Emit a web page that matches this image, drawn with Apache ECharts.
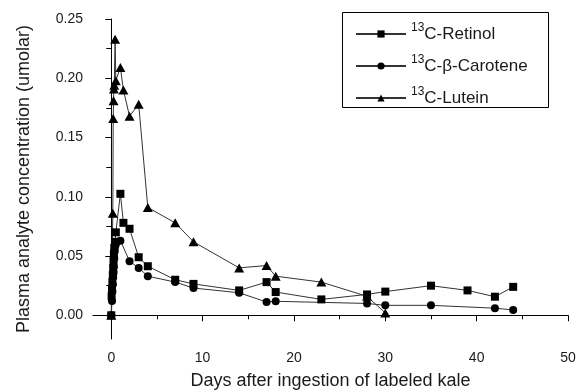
<!DOCTYPE html>
<html>
<head>
<meta charset="utf-8">
<style>
  html, body { margin: 0; padding: 0; background: #fff; }
  #chart { width: 577px; height: 390px; }
</style>
<script src="https://cdn.jsdelivr.net/npm/echarts@6/dist/echarts.min.js"></script>
</head>
<body>
<div id="chart"></div>
<script>
// Sampling times (days) and plasma concentrations (umolar) per analyte
const retinolDays   = [0, 0.04, 0.08, 0.125, 0.17, 0.21, 0.25, 0.29, 0.33, 0.42, 0.5, 1, 1.33, 2, 3, 4, 7, 9, 14, 17, 18, 23, 28, 30, 35, 39, 42, 44];
const retinolValues = [0, 0.016, 0.022, 0.028, 0.034, 0.040, 0.046, 0.052, 0.057, 0.062, 0.070, 0.1025, 0.078, 0.073, 0.049, 0.0414, 0.030, 0.0265, 0.021, 0.028, 0.0196, 0.0134, 0.0176, 0.020, 0.025, 0.021, 0.0157, 0.024];

const caroteneDays   = [0, 0.08, 0.125, 0.17, 0.21, 0.25, 0.29, 0.33, 0.375, 0.42, 0.5, 1, 2, 3, 4, 7, 9, 14, 17, 18, 28, 30, 35, 42, 44];
const caroteneValues = [0, 0.012, 0.020, 0.026, 0.032, 0.036, 0.041, 0.048, 0.054, 0.058, 0.060, 0.063, 0.0457, 0.040, 0.033, 0.028, 0.023, 0.019, 0.0112, 0.0118, 0.010, 0.0084, 0.0084, 0.006, 0.0045];

const luteinDays   = [0, 0.17, 0.21, 0.25, 0.29, 0.33, 0.42, 0.5, 1, 1.33, 2, 3, 4, 7, 9, 14, 17, 18, 23, 28, 30];
const luteinValues = [0, 0.086, 0.166, 0.181, 0.191, 0.194, 0.233, 0.198, 0.209, 0.190, 0.168, 0.178, 0.091, 0.078, 0.062, 0.040, 0.042, 0.033, 0.028, 0.016, 0.002];

// Axis tick positions
const xMajorTicks = [0, 10, 20, 30, 40, 50];
const xMinorTicks = [5, 15, 25, 35, 45];
const yMajorTicks = [0, 0.05, 0.10, 0.15, 0.20, 0.25];
const yMinorTicks = [0.025, 0.075, 0.125, 0.175, 0.225];

const FONT = "'Liberation Sans', Arial, sans-serif";
const INK = '#1a1a1a';

function pairs(days, values) {
  return days.map((d, i) => [d, values[i]]);
}

function makeSeries(name, symbol, size, days, values) {
  return {
    name: name,
    type: 'line',
    xAxisIndex: 0,
    yAxisIndex: 0,
    data: pairs(days, values),
    symbol: symbol,
    symbolSize: size,
    showAllSymbol: true,
    itemStyle: { color: '#000' },
    lineStyle: { color: '#333', width: 1 },
    emphasis: { disabled: true },
    animation: false
  };
}

const chart = echarts.init(document.getElementById('chart'), null, { renderer: 'canvas' });

const baseAxisLine = { show: true, lineStyle: { color: '#000', width: 1 } };

chart.setOption({
  backgroundColor: '#fff',
  animation: false,
  textStyle: { fontFamily: FONT },
  grid: { left: 93, right: 9, top: 19, bottom: 51, containLabel: false, outerBoundsMode: 'none' },
  xAxis: [
    {
      type: 'value', min: -2, max: 50, position: 'bottom',
      name: 'Days after ingestion of labeled kale',
      nameLocation: 'middle', nameGap: 33,
      nameTextStyle: { fontFamily: FONT, fontSize: 18, color: INK },
      axisLine: baseAxisLine,
      axisTick: { show: true, inside: false, length: 6, customValues: xMajorTicks, lineStyle: { color: '#000' } },
      axisLabel: { show: true, customValues: xMajorTicks, margin: 12, fontFamily: FONT, fontSize: 14, color: INK },
      splitLine: { show: false }
    },
    {
      type: 'value', min: -2, max: 50, position: 'bottom',
      axisLine: { show: false },
      axisTick: { show: true, inside: false, length: 4, customValues: xMinorTicks, lineStyle: { color: '#000' } },
      axisLabel: { show: false, customValues: xMinorTicks },
      splitLine: { show: false }
    }
  ],
  yAxis: [
    {
      type: 'value', min: -0.02, max: 0.25, position: 'left',
      name: 'Plasma analyte concentration (umolar)',
      nameLocation: 'middle', nameGap: 60, nameRotate: 90,
      nameTextStyle: { fontFamily: FONT, fontSize: 18, color: INK },
      axisLine: baseAxisLine,
      axisTick: { show: true, inside: false, length: 6, customValues: yMajorTicks, lineStyle: { color: '#000' } },
      axisLabel: {
        show: true, customValues: yMajorTicks, margin: 10,
        fontFamily: FONT, fontSize: 14, color: INK,
        formatter: v => v.toFixed(2)
      },
      splitLine: { show: false }
    },
    {
      type: 'value', min: -0.02, max: 0.25, position: 'left',
      axisLine: { show: false },
      axisTick: { show: true, inside: false, length: 5, customValues: yMinorTicks, lineStyle: { color: '#000' } },
      axisLabel: { show: false, customValues: yMinorTicks },
      splitLine: { show: false }
    }
  ],
  legend: {
    orient: 'vertical',
    left: 355, top: 22,
    padding: 0,
    itemGap: 8,
    itemWidth: 50,
    itemHeight: 9,
    selectedMode: false,
    data: ['Retinol', 'β-Carotene', 'Lutein'],
    formatter: name => '{sup|13}{txt|C-' + name + '}',
    textStyle: {
      fontFamily: FONT, color: INK,
      rich: {
        sup: { fontFamily: FONT, fontSize: 12, color: INK, lineHeight: 20, padding: [0, 0, 12, 0] },
        txt: { fontFamily: FONT, fontSize: 17, color: INK, lineHeight: 20 }
      }
    }
  },
  graphic: [
    {
      type: 'rect', silent: true, z: 10,
      shape: { x: 342.5, y: 12.5, width: 206, height: 95 },
      style: { fill: 'none', stroke: '#000', lineWidth: 1 }
    }
  ],
  series: [
    makeSeries('Retinol', 'rect', 8, retinolDays, retinolValues),
    makeSeries('β-Carotene', 'circle', 8, caroteneDays, caroteneValues),
    makeSeries('Lutein', 'triangle', [10, 9], luteinDays, luteinValues)
  ]
});
</script>
</body>
</html>
